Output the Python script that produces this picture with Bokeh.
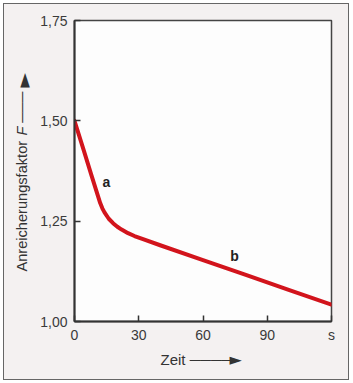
from bokeh.plotting import figure
from bokeh.layouts import column
from bokeh.models import Label, FixedTicker
from bokeh.embed import file_html
from bokeh.resources import INLINE

# --- data ---
zeit = [0, 4, 8, 12, 13, 14, 16, 18, 20, 22, 25, 28, 32, 40, 60, 80, 100, 120]
faktor = [1.50, 1.432, 1.363, 1.295, 1.282, 1.272, 1.256, 1.245, 1.236, 1.229,
          1.220, 1.213, 1.205, 1.190, 1.153, 1.116, 1.079, 1.042]
x_ticks = [0, 30, 60, 90, 120]
x_tick_labels = ["0", "30", "60", "90", "s"]
y_ticks = [1.00, 1.25, 1.50, 1.75]
y_tick_labels = ["1,00", "1,25", "1,50", "1,75"]

FONT = "Liberation Sans"
BG = "#f4f1f1"
INK = "#333333"

X0, X1 = 0, 120
Y0, Y1 = 1.0, 1.75
# frame placement in window pixels
FL, FR, FT, FB = 74, 331, 20, 321


def sx(px):
    return X0 + (px - FL) / (FR - FL) * (X1 - X0)


def sy(py):
    return Y0 + (FB - py) / (FB - FT) * (Y1 - Y0)


p = figure(width=344, height=375, x_range=(X0, X1), y_range=(Y0, Y1),
           output_backend="svg", toolbar_location=None,
           min_border_left=70, min_border_right=17, min_border_top=16, min_border_bottom=58)
p.background_fill_color = "#fdfdfd"
p.border_fill_color = BG
p.outline_line_color = "#444444"
p.outline_line_width = 1.5
p.grid.visible = False

p.xaxis.ticker = FixedTicker(ticks=x_ticks)
p.xaxis.major_label_overrides = {t: l for t, l in zip(x_ticks, x_tick_labels)}
p.yaxis.ticker = FixedTicker(ticks=y_ticks)
p.yaxis.major_label_overrides = {t: l for t, l in zip(y_ticks, y_tick_labels)}
for ax in (p.xaxis, p.yaxis):
    ax.major_tick_in = 6
    ax.major_tick_out = 0
    ax.minor_tick_in = 0
    ax.minor_tick_out = 0
    ax.axis_line_color = INK
    ax.axis_line_width = 2
    ax.major_tick_line_color = INK
    ax.major_tick_line_width = 1.5
    ax.major_label_text_font = FONT
    ax.major_label_text_font_size = "14px"
    ax.major_label_text_color = "#3a3a3a"
p.yaxis.major_label_standoff = 7
p.xaxis.major_label_standoff = 5

p.line(zeit, faktor, line_color="#d2141c", line_width=4,
       line_join="round", line_cap="round")

# curve labels
p.add_layout(Label(x=sx(106), y=sy(181), text="a", text_font=FONT, text_font_size="14px",
                   text_font_style="bold", text_color="#222222",
                   text_align="center", text_baseline="middle"))
p.add_layout(Label(x=sx(234), y=sy(255), text="b", text_font=FONT, text_font_size="14px",
                   text_font_style="bold", text_color="#222222",
                   text_align="center", text_baseline="middle"))

# y axis title (rotated), italic F with arrow
p.add_layout(Label(x=sx(21.5), y=sy(271), text="Anreicherungsfaktor", angle=1.5708,
                   text_font=FONT, text_font_size="14.6px", text_color=INK,
                   text_align="left", text_baseline="middle"), "left")
p.add_layout(Label(x=sx(21.5), y=sy(135), text="F  \u2500\u2500\u2500", angle=1.5708,
                   text_font=FONT, text_font_size="14.6px", text_color=INK,
                   text_font_style="italic", text_align="left", text_baseline="middle"), "right")
p.add_layout(Label(x=sx(22), y=sy(87), text="\u25ba", angle=1.5708,
                   text_font="DejaVu Sans", text_font_size="19px", text_color=INK,
                   text_align="left", text_baseline="middle"), "above")

# x axis title with arrow
p.add_layout(Label(x=sx(160), y=sy(359), text="Zeit  \u2500\u2500\u2500\u2500",
                   text_font=FONT, text_font_size="15px", text_color=INK,
                   text_align="left", text_baseline="middle"), "below")
p.add_layout(Label(x=sx(229), y=sy(359), text="\u25ba",
                   text_font="DejaVu Sans", text_font_size="16px", text_color=INK,
                   text_align="left", text_baseline="middle"), "left")

layout = column(p, styles={"margin": "3px", "border": "1px solid #666666",
                           "background-color": BG})

open("out.html", "w").write(file_html(layout, INLINE))
